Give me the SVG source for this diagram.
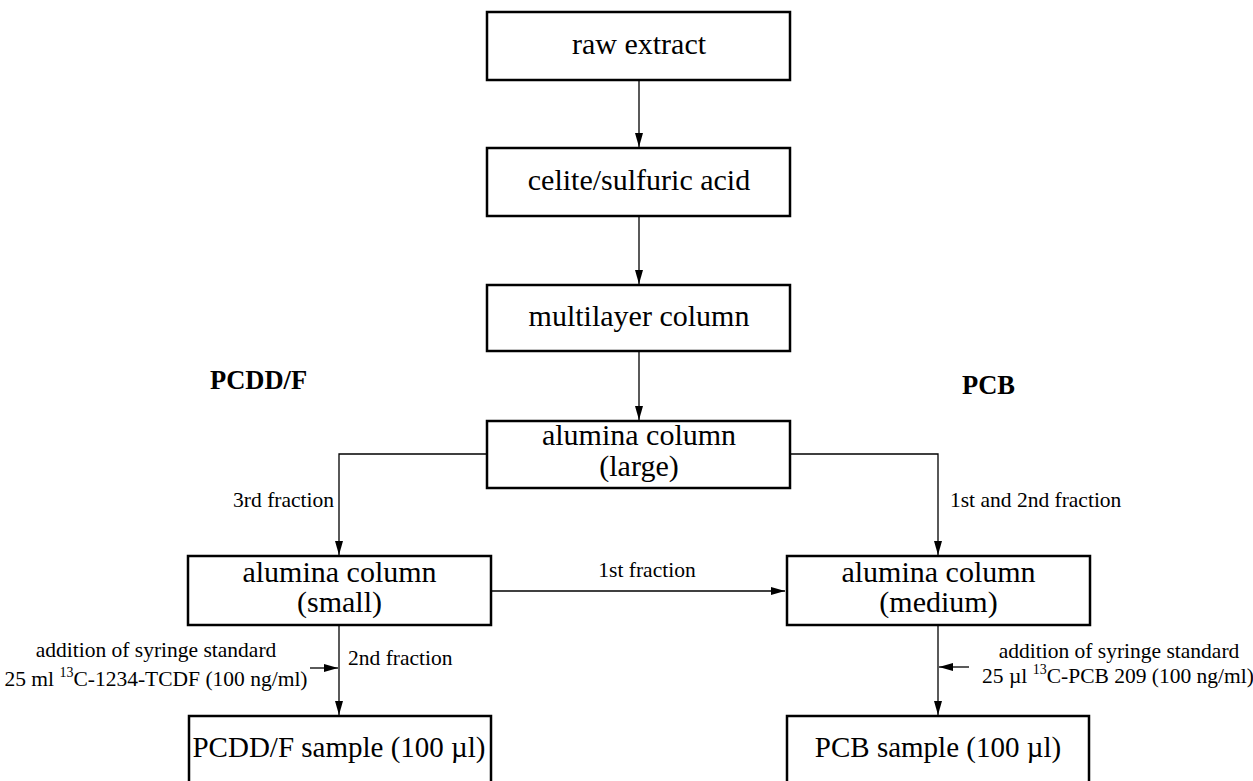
<svg xmlns="http://www.w3.org/2000/svg" width="1253" height="781" viewBox="0 0 1253 781">
<defs>
<style>
.box{fill:#fff;stroke:#000;stroke-width:2.5}
.big{font-family:"Liberation Serif",serif;font-size:30px;fill:#000;text-anchor:middle}
.sm{font-family:"Liberation Serif",serif;font-size:21.5px;fill:#000}
.hd{font-family:"Liberation Serif",serif;font-size:26.5px;font-weight:bold;fill:#000}
.con{fill:none;stroke:#000;stroke-width:1.3}
</style>
<marker id="ah" markerUnits="userSpaceOnUse" markerWidth="14" markerHeight="8" refX="14" refY="4" orient="auto">
<path d="M0,0 L14,4 L0,8 z" fill="#000"/>
</marker>
</defs>
<rect width="1253" height="781" fill="#fff"/>
<g id="connectors">
<path class="con" d="M639,80 V147" marker-end="url(#ah)"/>
<path class="con" d="M639,216 V284" marker-end="url(#ah)"/>
<path class="con" d="M639,351 V420" marker-end="url(#ah)"/>
<path class="con" d="M487,454 H339 V555" marker-end="url(#ah)"/>
<path class="con" d="M790,454 H938 V555" marker-end="url(#ah)"/>
<path class="con" d="M491,591 H785" marker-end="url(#ah)"/>
<path class="con" d="M339,625 V715" marker-end="url(#ah)"/>
<path class="con" d="M938,625 V715" marker-end="url(#ah)"/>
<path class="con" d="M310,668 H338" marker-end="url(#ah)"/>
<path class="con" d="M969,667 H939" marker-end="url(#ah)"/>
<text class="sm" x="334" y="507" text-anchor="end">3rd fraction</text>
<text class="sm" x="950" y="507">1st and 2nd fraction</text>
<text class="sm" x="647" y="577" text-anchor="middle">1st fraction</text>
<text class="sm" x="348" y="665">2nd fraction</text>
</g>
<g id="n-raw"><rect class="box" x="487" y="12" width="303" height="68"/><text class="big" x="639" y="54">raw extract</text></g>
<g id="n-celite"><rect class="box" x="487" y="148" width="303" height="68"/><text class="big" x="639" y="190">celite/sulfuric acid</text></g>
<g id="n-multi"><rect class="box" x="487" y="285" width="303" height="66"/><text class="big" x="639" y="326">multilayer column</text></g>
<g id="n-large"><rect class="box" x="487" y="421" width="303" height="67"/><text class="big" x="639" y="445">alumina column</text><text class="big" x="639" y="476">(large)</text></g>
<g id="n-small"><rect class="box" x="188" y="556" width="303" height="69"/><text class="big" x="339.5" y="582">alumina column</text><text class="big" x="339.5" y="612">(small)</text></g>
<g id="n-medium"><rect class="box" x="787" y="556" width="303" height="69"/><text class="big" x="938.5" y="582">alumina column</text><text class="big" x="938.5" y="612">(medium)</text></g>
<g id="n-pcddf-sample"><rect class="box" x="189" y="716" width="302" height="80"/><text class="big" x="339" y="757" style="font-size:29px">PCDD/F sample (100 µl)</text></g>
<g id="n-pcb-sample"><rect class="box" x="787" y="716" width="302" height="80"/><text class="big" x="938" y="757" style="font-size:29px">PCB sample (100 µl)</text></g>
<g id="label-pcddf"><text class="hd" x="210" y="389">PCDD/F</text></g>
<g id="label-pcb"><text class="hd" x="962" y="394">PCB</text></g>
<g id="note-left">
<text class="sm" x="156" y="657" text-anchor="middle">addition of syringe standard</text>
<text class="sm" x="156" y="686" text-anchor="middle">25 ml <tspan font-size="14" dy="-9">13</tspan><tspan dy="9">C-1234-TCDF (100 ng/ml)</tspan></text>
</g>
<g id="note-right">
<text class="sm" x="1119" y="658" text-anchor="middle">addition of syringe standard</text>
<text class="sm" x="1118" y="683" text-anchor="middle">25 µl <tspan font-size="14" dy="-9">13</tspan><tspan dy="9">C-PCB 209 (100 ng/ml)</tspan></text>
</g>
</svg>
